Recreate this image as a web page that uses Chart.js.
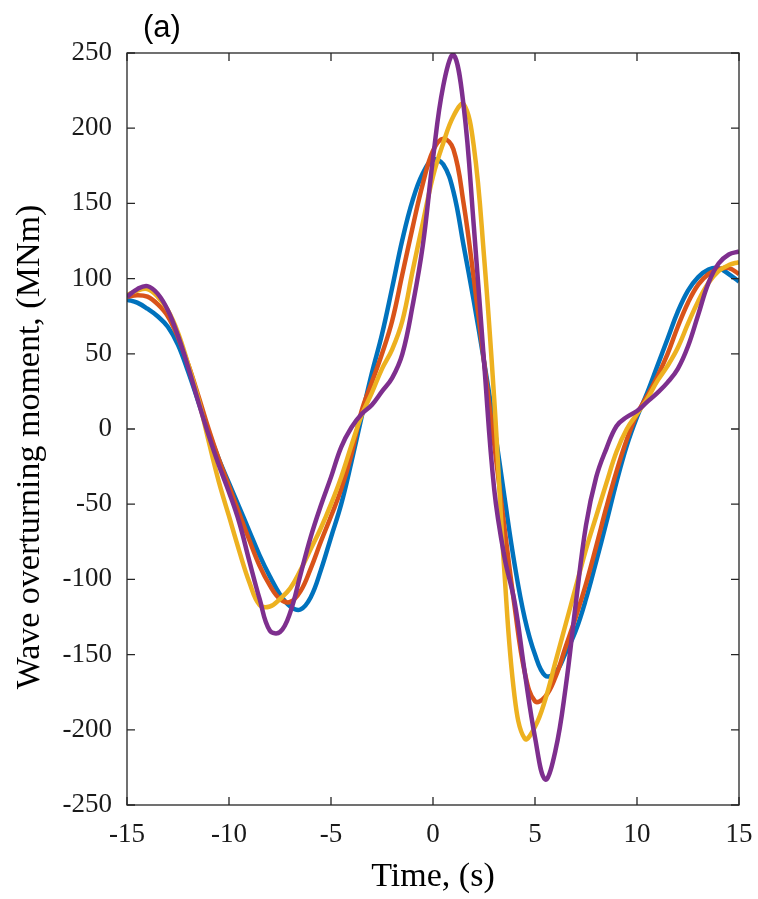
<!DOCTYPE html>
<html>
<head>
<meta charset="utf-8">
<script src="https://cdn.jsdelivr.net/npm/chart.js@4.4.1/dist/chart.umd.min.js"></script>
<style>
html,body{margin:0;padding:0;background:#fff;}
#caixa{width:758px;height:899px;}
</style>
</head>
<body>
<div id="caixa"><canvas id="momento"></canvas></div>
<script>

// tempo (s)
const tempo = [
-15,-14.5,-14,-13.5,-13,-12.5,-12,-11.5,-11,-10.5,
-10,-9.5,-9,-8.5,-8,-7.5,-7,-6.5,-6,-5.5,
-5,-4.5,-4,-3.5,-3,-2.5,-2,-1.5,-1,-0.5,
0,0.5,1,1.5,2,2.5,3,3.5,4,4.5,
5,5.5,6,6.5,7,7.5,8,8.5,9,9.5,
10,10.5,11,11.5,12,12.5,13,13.5,14,14.5,15
];

// momento (MNm), uma lista por curva
const azul = [
86,84,80,75,68,56,38,18,-2,-20,
-36,-52,-68,-84,-98,-110,-118,-120,-112,-94,
-72,-50,-22,8,37,63,94,126,152,170,
179,176,158,122,85,45,2,-45,-90,-126,
-150,-164,-162,-149,-134,-113,-88,-62,-35,-11,
8,24,42,60,78,92,101,106,107,103,98
];

const laranja = [
88,89,88,83,75,61,43,22,0,-20,
-38,-56,-74,-91,-104,-113,-115,-108,-93,-75,
-58,-40,-17,12,31,50,72,103,134,163,
185,193,186,150,100,45,-10,-65,-118,-162,
-181,-178,-165,-145,-125,-103,-78,-52,-28,-7,
10,22,35,50,68,84,96,103,106,107,103
];

const amarelo = [
89,92,93,88,79,64,43,20,-8,-35,
-58,-81,-102,-117,-118,-113,-106,-94,-80,-66,
-50,-32,-11,9,24,40,53,72,105,137,
168,190,208,216,188,115,20,-95,-178,-206,
-198,-180,-155,-130,-105,-80,-58,-36,-15,0,
10,20,32,42,54,70,85,97,105,109,111
];

const roxo = [
88,93,95,90,79,62,41,18,-4,-24,
-42,-62,-88,-113,-134,-135,-122,-97,-72,-51,
-32,-12,1,10,16,25,34,50,82,122,
180,228,249,215,135,45,-40,-85,-115,-162,
-205,-233,-214,-172,-116,-64,-32,-13,2,8,
12,18,24,31,40,55,76,97,110,116,118
];

const ticksX = [-15,-10,-5,0,5,10,15];
const ticksY = [-250,-200,-150,-100,-50,0,50,100,150,200,250];

const tituloY = "Wave overturning moment, (MNm)";


function pontos(valores){

return tempo.map((t,i)=>({x:t,y:valores[i]}));

}


// caixa com marcas para dentro, título do eixo y e o rótulo (a)
const moldura = {

id:"moldura",

afterDatasetsDraw(chart){

const ctx = chart.ctx;
const area = chart.chartArea;
const sx = chart.scales.x;
const sy = chart.scales.y;

ctx.save();
ctx.strokeStyle = "#262626";
ctx.lineWidth = 1.3;
ctx.strokeRect(area.left,area.top,area.right-area.left,area.bottom-area.top);

ctx.beginPath();

ticksX.forEach(v=>{
const p = sx.getPixelForValue(v);
ctx.moveTo(p,area.bottom); ctx.lineTo(p,area.bottom-8);
ctx.moveTo(p,area.top); ctx.lineTo(p,area.top+8);
});

ticksY.forEach(v=>{
const p = sy.getPixelForValue(v);
ctx.moveTo(area.left,p); ctx.lineTo(area.left+8,p);
ctx.moveTo(area.right,p); ctx.lineTo(area.right-8,p);
});

ctx.stroke();

ctx.fillStyle = "#000";
ctx.font = "31px 'Liberation Sans'";
ctx.textBaseline = "alphabetic";
ctx.textAlign = "left";
ctx.fillText("(a)",143,37);

ctx.translate(39,447);
ctx.rotate(-Math.PI/2);
ctx.font = "34px 'Liberation Serif'";
ctx.textAlign = "center";
ctx.fillText(tituloY,0,0);

ctx.restore();

}

};


function serie(valores,cor,ordem){

return {
data:pontos(valores),
borderColor:cor,
borderWidth:4.5,
pointRadius:0,
fill:false,
tension:0.4,
order:ordem
};

}


new Chart(

document.getElementById("momento"),

{

type:"line",

data:{
datasets:[
serie(azul,"#0072BD",3),
serie(laranja,"#D95319",2),
serie(amarelo,"#EDB120",1),
serie(roxo,"#7E2F8E",0)
]
},

options:{

responsive:true,
maintainAspectRatio:false,
animation:false,
devicePixelRatio:1,

layout:{padding:{top:53,right:19,left:0,bottom:0}},

plugins:{legend:{display:false},tooltip:{enabled:false}},

scales:{

x:{
type:"linear",
min:-15,
max:15,
afterFit(s){ s.height = 94; s.paddingLeft = 0; s.paddingRight = 0; },
afterBuildTicks(s){ s.ticks = ticksX.map(v=>({value:v})); },
grid:{display:false,drawTicks:false},
border:{display:false},
ticks:{
padding:14,
color:"#1a1a1a",
font:{family:"'Liberation Serif'",size:27}
},
title:{
display:true,
text:"Time, (s)",
color:"#000",
padding:{top:0,bottom:2},
font:{family:"'Liberation Serif'",size:34}
}
},

y:{
type:"linear",
min:-250,
max:250,
afterFit(s){ s.width = 127; s.paddingTop = 0; s.paddingBottom = 0; },
afterBuildTicks(s){ s.ticks = ticksY.map(v=>({value:v})); },
grid:{display:false,drawTicks:false},
border:{display:false},
ticks:{
padding:15,
color:"#1a1a1a",
font:{family:"'Liberation Serif'",size:27}
}
}

}

},

plugins:[moldura]

}

);

</script>
</body>
</html>
